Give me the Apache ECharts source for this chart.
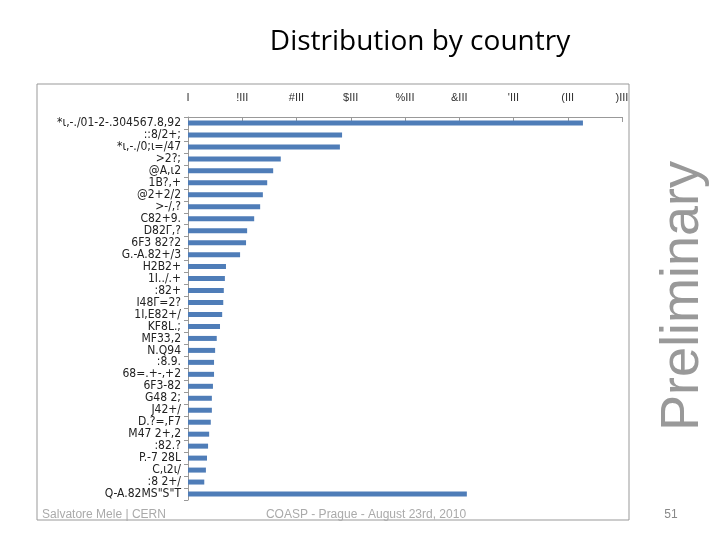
<!DOCTYPE html>
<html>
<head>
<meta charset="utf-8">
<script src="https://cdn.jsdelivr.net/npm/echarts@6/dist/echarts.min.js"></script>
<style>body{margin:0;background:#fff}#c{width:720px;height:540px}</style>
</head>
<body>
<div id="c"></div>
<script>
// labels as they appear (font-encoded) in the source picture
var countries = ['*ι,-./01-2-.304567.8,92', '::8/2+;', '*ι,-./0;ι=/47', '>2?;', '@A,ι2', '1B?,+', '@2+2/2', '>-/,?',
  'C82+9.', 'D82Γ,?', '6F3 82?2', 'G.-A.82+/3', 'H2B2+', '1I../.+', ':82+', 'I48Γ=2?', '1I,E82+/', 'KF8L.;',
  'MF33,2', 'N.Q94', ':8.9.', '68=.+-,+2', '6F3-82', 'G48 2;', 'J42+/', 'D.?=,F7', 'M47 2+,2', ':82.?',
  'P.-7 28L', 'C,ι2ι/', ':8 2+/', 'Q-A.82MS"S"T'];
var counts = [7280, 2840, 2800, 1710, 1570, 1460, 1380, 1330, 1220, 1090, 1070, 960, 700, 680, 660, 650, 630, 590,
  530, 500, 480, 480, 460, 440, 440, 420, 390, 370, 350, 330, 300, 5140];
var tickLabels = ['I', '!III', '#III', '$III', '%III', '&III', "'III", '(III', ')III'];

var chart = echarts.init(document.getElementById('c'));
chart.setOption({
  animation: false,
  graphic: [
    {type: 'rect', shape: {x: 37, y: 84, width: 592, height: 436}, style: {fill: 'none', stroke: '#999', lineWidth: 1}},
    {type: 'text', x: 420, y: 42, style: {text: 'Distribution by country', font: '28px "Open Sans", sans-serif', fill: '#000', align: 'center', verticalAlign: 'middle'}},
    {type: 'text', x: 683, y: 296, rotation: Math.PI / 2, style: {text: 'Preliminary', font: '54px "Liberation Sans", sans-serif', fill: '#999', align: 'center', verticalAlign: 'middle'}},
    {type: 'text', x: 104, y: 515, style: {text: 'Salvatore Mele | CERN', font: '12px "Liberation Sans", sans-serif', fill: '#aaa', align: 'center', verticalAlign: 'middle'}},
    {type: 'text', x: 366, y: 515, style: {text: 'COASP - Prague - August 23rd, 2010', font: '12px "Liberation Sans", sans-serif', fill: '#aaa', align: 'center', verticalAlign: 'middle'}},
    {type: 'text', x: 671, y: 515, style: {text: '51', font: '12px "Liberation Sans", sans-serif', fill: '#888', align: 'center', verticalAlign: 'middle'}}
  ],
  grid: {left: 188, right: 98, top: 117, bottom: 40},
  xAxis: {
    type: 'value', position: 'top', min: 0, max: 8000, interval: 1000,
    axisLine: {show: true, lineStyle: {color: '#999'}},
    axisTick: {show: true, inside: true, length: 5, lineStyle: {color: '#999'}},
    splitLine: {show: false},
    axisLabel: {margin: 14, fontSize: 11, color: '#333', formatter: function (v) { return tickLabels[v / 1000]; }}
  },
  yAxis: {
    type: 'category', inverse: true, data: countries,
    axisLine: {lineStyle: {color: '#999'}},
    axisTick: {show: true, length: 4, interval: 0, lineStyle: {color: '#999'}},
    axisLabel: {interval: 0, fontSize: 12, lineHeight: 12, color: '#222', margin: 7, fontFamily: 'DejaVu Sans Condensed, sans-serif'}
  },
  series: [{type: 'bar', data: counts, barWidth: 5, itemStyle: {color: '#4f7db8'}}]
});
</script>
</body>
</html>
